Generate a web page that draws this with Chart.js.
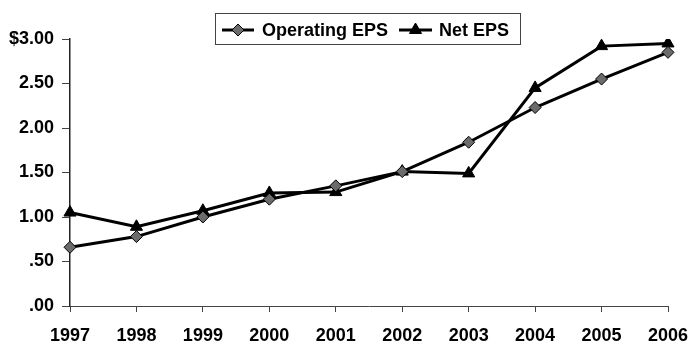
<!DOCTYPE html>
<html>
<head>
<meta charset="utf-8">
<script src="https://cdn.jsdelivr.net/npm/chart.js@4/dist/chart.umd.min.js"></script>
<style>
  html, body { margin: 0; padding: 0; background: #fff; }
  #wrap { width: 689px; height: 344px; }
</style>
</head>
<body>
<div id="wrap"><canvas id="epsChart"></canvas></div>
<script>
const years = ['1997', '1998', '1999', '2000', '2001', '2002', '2003', '2004', '2005', '2006'];
const operatingEps = [0.66, 0.78, 1.00, 1.20, 1.35, 1.51, 1.84, 2.23, 2.55, 2.85];
const netEps = [1.05, 0.89, 1.07, 1.27, 1.28, 1.51, 1.49, 2.45, 2.92, 2.95];
const yTickLabels = { 0: '.00', 0.5: '.50', 1: '1.00', 1.5: '1.50', 2: '2.00', 2.5: '2.50', 3: '$3.00' };

const FONT = 'Liberation Sans, Arial, sans-serif';
const ctx = document.getElementById('epsChart').getContext('2d');

// boxed legend above the plot: a short line with the marker, then the name
const boxLegend = {
  id: 'boxLegend',
  afterDraw(chart) {
    const c = chart.ctx;
    const box = { x: 215.5, y: 13.5, w: 305, h: 31 };
    c.save();
    c.strokeStyle = '#444';
    c.lineWidth = 1;
    c.strokeRect(box.x, box.y, box.w, box.h);
    const cy = 30;
    const items = [
      { x0: 222, x1: 254, tx: 262 },
      { x0: 399, x1: 432, tx: 439 },
    ];
    chart.data.datasets.forEach((ds, i) => {
      const it = items[i];
      c.strokeStyle = ds.borderColor;
      c.lineWidth = 3;
      c.beginPath();
      c.moveTo(it.x0, cy);
      c.lineTo(it.x1, cy);
      c.stroke();
      c.fillStyle = ds.pointBackgroundColor;
      c.strokeStyle = ds.pointBorderColor;
      c.lineWidth = 1;
      Chart.helpers.drawPoint(c, {
        pointStyle: ds.pointStyle,
        radius: ds.pointRadius,
        rotation: 0,
        borderWidth: 1,
      }, (it.x0 + it.x1) / 2, cy);
      c.fillStyle = '#000';
      c.font = 'bold 18px ' + FONT;
      c.textBaseline = 'middle';
      c.fillText(ds.label, it.tx, cy + 1);
    });
    c.restore();
  }
};

const data = {
  labels: years,
  datasets: [
    {
      label: 'Operating EPS',
      data: operatingEps,
      borderColor: '#000',
      borderWidth: 3,
      pointStyle: 'rectRot',
      pointRadius: 6,
      pointBackgroundColor: '#6b6b6b',
      pointBorderColor: '#000',
      pointBorderWidth: 1,
      tension: 0,
    },
    {
      label: 'Net EPS',
      data: netEps,
      borderColor: '#000',
      borderWidth: 3,
      pointStyle: 'triangle',
      pointRadius: 7,
      pointBackgroundColor: '#000',
      pointBorderColor: '#000',
      pointBorderWidth: 1,
      tension: 0,
    },
  ],
};

const config = {
  type: 'line',
  data: data,
  options: {
    responsive: true,
    maintainAspectRatio: false,
    animation: false,
    layout: { padding: { top: 39, right: 21, left: 0, bottom: 0 } },
    plugins: {
      legend: { display: false },
      tooltip: { enabled: false },
    },
    scales: {
      x: {
        offset: false,
        border: { color: '#444', width: 1 },
        grid: { drawOnChartArea: false, drawTicks: true, tickLength: 6, color: '#444' },
        ticks: {
          color: '#000',
          font: { family: FONT, size: 18, weight: 'bold' },
          padding: 13,
          maxRotation: 0,
          autoSkip: false,
        },
        afterFit: (scale) => {
          scale.height = 38;
          // let the last year label run to the canvas edge
          scale.paddingRight = 0;
          scale.paddingLeft = 0;
        },
      },
      y: {
        min: 0,
        max: 3,
        border: { color: '#222', width: 1.5 },
        grid: { drawOnChartArea: false, drawTicks: true, tickLength: 8, color: '#444' },
        ticks: {
          stepSize: 0.5,
          color: '#000',
          font: { family: FONT, size: 18, weight: 'bold' },
          padding: 8,
          callback: (value) => yTickLabels[value],
        },
        afterFit: (scale) => { scale.width = 70; },
      },
    },
  },
  plugins: [boxLegend],
};

const epsChart = new Chart(ctx, config);
</script>
</body>
</html>
